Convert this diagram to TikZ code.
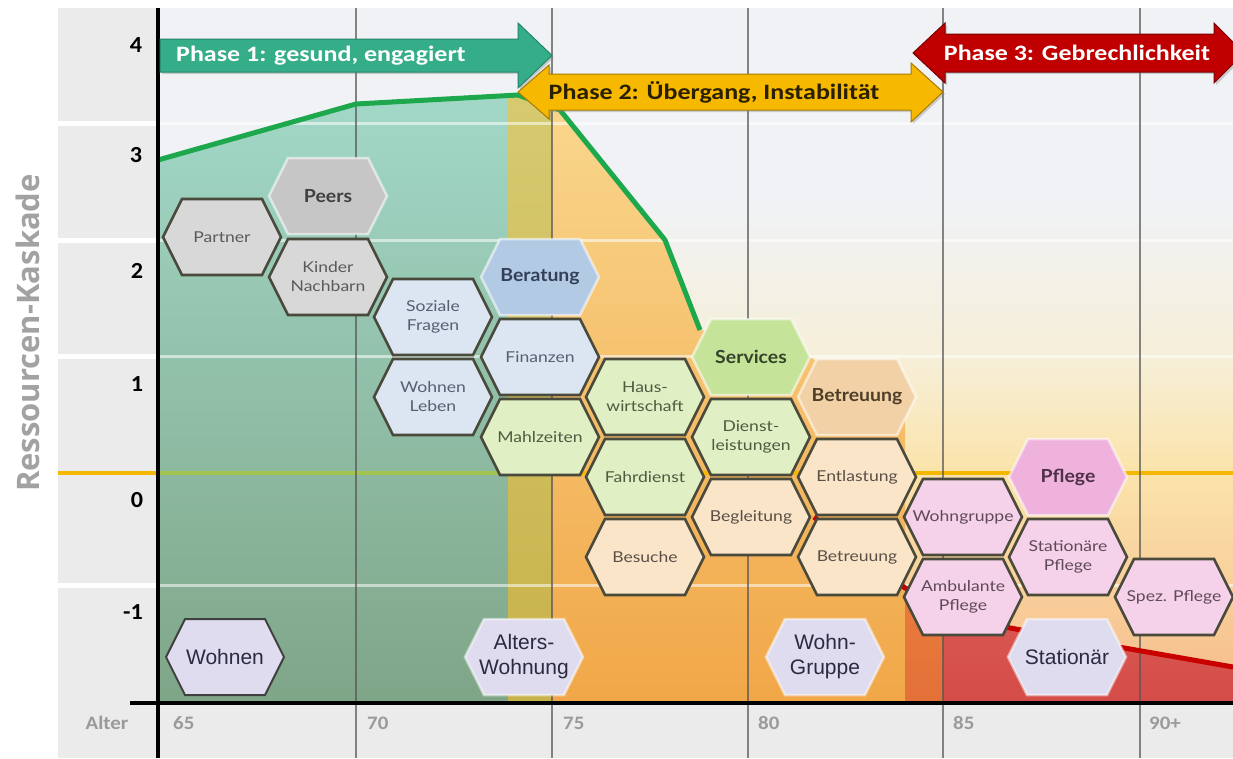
\documentclass[tikz,border=0pt]{standalone}
\usepackage{fontspec}
\setmainfont{Lato}
\newfontfamily\carlito{Carlito}
\newfontfamily\arialish{Liberation Sans}
\newfontfamily\opensans{Open Sans}
\usetikzlibrary{shadows}

\definecolor{bandgray}{HTML}{EBEBEB}
\definecolor{bgA}{HTML}{F0F2F5}
\definecolor{bgB}{HTML}{F6EFD9}
\definecolor{bgC}{HTML}{FBE4AC}
\definecolor{bgD}{HTML}{F8CC98}
\definecolor{bgE}{HTML}{F3BA8A}
\definecolor{grA}{HTML}{A2D8C8}
\definecolor{grB}{HTML}{97C9A0}
\definecolor{grC}{HTML}{7FA587}
\definecolor{olA}{HTML}{D6CA70}
\definecolor{olB}{HTML}{D2C05A}
\definecolor{olC}{HTML}{C8B24A}
\definecolor{orA}{HTML}{F9D68C}
\definecolor{orB}{HTML}{F6C263}
\definecolor{orC}{HTML}{F1A748}
\definecolor{doA}{HTML}{EA7C3C}
\definecolor{doB}{HTML}{E27038}
\definecolor{rdA}{HTML}{DA5A52}
\definecolor{rdB}{HTML}{D44C48}
\definecolor{curvegreen}{HTML}{1EA84E}
\definecolor{curvered}{HTML}{C80000}
\definecolor{lineorange}{HTML}{F6B700}
\definecolor{linegreenish}{HTML}{A3C44E}
\definecolor{hexline}{HTML}{4A4A3C}
\definecolor{sgray}{HTML}{D8D8D8}
\definecolor{hgray}{HTML}{C6C6C6}
\definecolor{sblue}{HTML}{DCE6F2}
\definecolor{hblue}{HTML}{B3CAE4}
\definecolor{sgreen}{HTML}{E1F0C4}
\definecolor{hgreen}{HTML}{C5E49A}
\definecolor{speach}{HTML}{FAE5C9}
\definecolor{hpeach}{HTML}{F2D1A6}
\definecolor{spink}{HTML}{F6D2EA}
\definecolor{hpink}{HTML}{EEB2DC}
\definecolor{lav}{HTML}{DEDCEE}
\definecolor{tgray}{HTML}{5A5A5A}
\definecolor{tblue}{HTML}{56606E}
\definecolor{tgreen}{HTML}{4F5A40}
\definecolor{tpeach}{HTML}{5A5048}
\definecolor{tpink}{HTML}{5E4A58}
\definecolor{htgray}{HTML}{404040}
\definecolor{htblue}{HTML}{34405A}
\definecolor{htgreen}{HTML}{34442A}
\definecolor{htpeach}{HTML}{4E3E28}
\definecolor{htpink}{HTML}{4E3048}
\definecolor{bottext}{HTML}{2A2A40}
\definecolor{phaseA}{HTML}{36AD89}
\definecolor{phaseAline}{HTML}{23866A}
\definecolor{phaseB}{HTML}{F6B900}
\definecolor{phaseBline}{HTML}{A77C00}
\definecolor{phaseC}{HTML}{C00000}
\definecolor{phaseCline}{HTML}{7A0000}
\definecolor{phaseBtext}{HTML}{2A1F00}
\definecolor{xlabgray}{HTML}{9A9A9A}
\definecolor{titlegray}{HTML}{A2A2A2}
\definecolor{vgridcol}{HTML}{555555}

\pgfdeclareverticalshading{bgshade}{100bp}{color(0bp)=(bgE); color(25bp)=(bgE); color(32bp)=(bgD); color(42bp)=(bgC); color(50bp)=(bgB); color(61bp)=(bgA); color(75bp)=(bgA); color(100bp)=(bgA)}

\newcommand\hexcell[6]{%
  \path[#1, shift={(#4,#5)}] (-59,0) -- (-40,-38) -- (40,-38) -- (59,0) -- (40,38) -- (-40,38) -- cycle;
  \node[#2] (#3) at (#4,#5) {#6};}

\begin{document}
\begin{tikzpicture}[x=1pt,y=-1pt,
  subhex/.style={fill=#1, draw=hexline, line width=2.6pt},
  headhex/.style={fill=#1, draw=white, draw opacity=0.55, line width=2.5pt},
  bothex/.style={fill=lav, draw=white, draw opacity=0.5, line width=2.5pt},
  subtxt/.style={font=\fontsize{15}{19}\selectfont, text=#1, align=center, inner sep=0pt, xscale=1.17},
  headtxt/.style={font=\bfseries\fontsize{18}{22}\selectfont, text=#1, align=center, inner sep=0pt, xscale=1.08},
  bottxt/.style={font=\arialish\fontsize{21}{25}\selectfont, text=bottext, align=center, inner sep=0pt},
  phasetxt/.style={font=\carlito\bfseries\fontsize{22}{22}\selectfont, inner sep=0pt, xscale=1.18},
  ynum/.style={font=\carlito\bfseries\fontsize{23}{23}\selectfont, text=black, inner sep=0pt, xscale=1.05},
  xlab/.style={font=\carlito\bfseries\fontsize{19}{19}\selectfont, text=xlabgray, inner sep=0pt, anchor=west, xscale=1.1},
  vgrid/.style={draw=vgridcol, draw opacity=0.7, line width=2.5pt},
  hgrid/.style={draw=white, draw opacity=0.55, line width=3pt},
  shadowed/.style={drop shadow={shadow xshift=2pt, shadow yshift=-2pt, opacity=0.35}}
]
\useasboundingbox (0,0) rectangle (1233,758);
\fill[white] (0,0) rectangle (1233,758);
% gray bands
\fill[bandgray] (58,8) rectangle (158,703);
\fill[bandgray] (58,703) rectangle (1233,758);
% plot background
\path[shade, shading=bgshade] (158,8) rectangle (1233,703);
% regions
\shade[top color=grA, middle color=grB, bottom color=grC] (158,160) -- (356,104) -- (508,95.6) -- (508,703) -- (158,703) -- cycle;
\shade[top color=olA, middle color=olB, bottom color=olC] (508,95.6) -- (518,95) -- (552,107) -- (552,703) -- (508,703) -- cycle;
\shade[top color=orA, middle color=orB, bottom color=orC] (552,107) -- (560,110) -- (665,240) -- (700,330) -- (780,340) -- (850,380) -- (905,400) -- (905,703) -- (552,703) -- cycle;
\shade[top color=doA, bottom color=doB] (905,588) -- (943,602.5) -- (943,703) -- (905,703) -- cycle;
\shade[top color=rdA, bottom color=rdB] (943,602.5) -- (1010,628) -- (1233,667) -- (1233,703) -- (943,703) -- cycle;
% horizontal grid
\foreach \yy in {123,240,356,585}{
  \draw[hgrid] (158,\yy) -- (1233,\yy);
  \draw[white, line width=5pt] (58,\yy) -- (158,\yy);
}
\draw[lineorange, line width=4pt] (58,473) -- (1233,473);
\draw[linegreenish, line width=4pt] (158,473) -- (508,473);
% vertical grid
\foreach \xx in {356,552,748,943,1140}{
  \draw[vgrid] (\xx,8) -- (\xx,758);
}
% curves
\draw[curvered, line width=5pt, line join=round] (814,517) -- (905,588) -- (1010,628) -- (1233,667);
\draw[curvegreen, line width=5pt, line join=round] (158,160) -- (356,104) -- (518,95) -- (560,110) -- (665,240) -- (700,330);
% axes
\draw[black, line width=4pt] (158,8) -- (158,758);
\draw[black, line width=4.5pt] (130,703) -- (1233,703);

% hexagons
\hexcell{subhex=sgray}{subtxt=tgray}{partner}{222}{237}{Partner}
\hexcell{headhex=hgray}{headtxt=htgray}{peers}{328}{196}{Peers}
\hexcell{subhex=sgray}{subtxt=tgray}{kinder}{328}{277}{Kinder\\Nachbarn}
\hexcell{subhex=sblue}{subtxt=tblue}{soziale}{433}{317}{Soziale\\Fragen}
\hexcell{subhex=sblue}{subtxt=tblue}{wleben}{433}{397}{Wohnen\\Leben}
\hexcell{headhex=hblue}{headtxt=htblue}{beratung}{540}{277}{Beratung}
\hexcell{subhex=sblue}{subtxt=tblue}{finanzen}{540}{357}{Finanzen}
\hexcell{subhex=sgreen}{subtxt=tgreen}{mahlzeiten}{540}{437}{Mahlzeiten}
\hexcell{subhex=sgreen}{subtxt=tgreen}{haus}{645}{397}{Haus-\\wirtschaft}
\hexcell{subhex=sgreen}{subtxt=tgreen}{fahr}{645}{477}{Fahrdienst}
\hexcell{subhex=speach}{subtxt=tpeach}{besuche}{645}{557}{Besuche}
\hexcell{headhex=hgreen}{headtxt=htgreen}{services}{751}{357}{Services}
\hexcell{subhex=sgreen}{subtxt=tgreen}{dienst}{751}{437}{Dienst-\\leistungen}
\hexcell{subhex=speach}{subtxt=tpeach}{begleitung}{751}{517}{Begleitung}
\hexcell{headhex=hpeach}{headtxt=htpeach}{betreuungH}{857}{397}{Betreuung}
\hexcell{subhex=speach}{subtxt=tpeach}{entlastung}{857}{477}{Entlastung}
\hexcell{subhex=speach}{subtxt=tpeach}{betreuung}{857}{557}{Betreuung}
\hexcell{subhex=spink}{subtxt=tpink}{wgruppe}{963}{517}{Wohngruppe}
\hexcell{subhex=spink}{subtxt=tpink}{ambulant}{963}{597}{Ambulante\\Pflege}
\hexcell{headhex=hpink}{headtxt=htpink}{pflege}{1068}{477}{Pflege}
\hexcell{subhex=spink}{subtxt=tpink}{stpflege}{1068}{557}{Stationäre\\Pflege}
\hexcell{subhex=spink}{subtxt=tpink}{spez}{1174}{597}{Spez. Pflege}
% bottom hexagons
\hexcell{fill=lav, draw=black!75, line width=2pt}{bottxt}{wohnen}{225}{657}{Wohnen}
\hexcell{bothex}{bottxt}{alterswohnung}{524}{657}{Alters-\\Wohnung}
\hexcell{bothex}{bottxt}{wohngruppeB}{825}{657}{Wohn-\\Gruppe}
\hexcell{bothex}{bottxt}{stationaer}{1067}{657}{Stationär}

% phase arrows
\path[fill=phaseA, draw=phaseAline, line width=1pt, shadowed] (160,39) -- (518,39) -- (518,23) -- (552,55.5) -- (518,88) -- (518,72) -- (160,72) -- cycle;
\node[phasetxt, text=white, anchor=west] (phase1) at (176,56) {Phase 1: gesund, engagiert};
\path[fill=phaseB, draw=phaseBline, line width=1pt, shadowed] (518,92) -- (549,65) -- (549,74) -- (911,74) -- (911,63) -- (943,92) -- (911,122) -- (911,110) -- (549,110) -- (549,119) -- cycle;
\node[phasetxt, text=phaseBtext] (phase2) at (714,92) {Phase 2: Übergang, Instabilität};
\path[fill=phaseC, draw=phaseCline, line width=1pt, shadowed] (913,53) -- (945,23) -- (945,34) -- (1214,34) -- (1214,23) -- (1244,53) -- (1214,83) -- (1214,72) -- (945,72) -- (945,83) -- cycle;
\node[phasetxt, text=white] (phase3) at (1077,53) {Phase 3: Gebrechlichkeit};

% axis labels
\node[ynum] (y4) at (136,45) {4};
\node[ynum] (y3) at (136,155) {3};
\node[ynum] (y2) at (137,271) {2};
\node[ynum] (y1) at (137,384) {1};
\node[ynum] (y0) at (137,500) {0};
\node[ynum] (ym1) at (133,612) {-1};
\node[xlab, anchor=center] (alter) at (107,723) {Alter};
\node[xlab] (x65) at (173,723) {65};
\node[xlab] (x70) at (367,723) {70};
\node[xlab] (x75) at (563,723) {75};
\node[xlab] (x80) at (758,723) {80};
\node[xlab] (x85) at (953,723) {85};
\node[xlab] (x90) at (1149,723) {90+};
\node[rotate=90, font=\opensans\bfseries\fontsize{31}{31}\selectfont, text=titlegray, inner sep=0pt] (title) at (28,333) {Ressourcen-Kaskade};
\end{tikzpicture}
\end{document}
